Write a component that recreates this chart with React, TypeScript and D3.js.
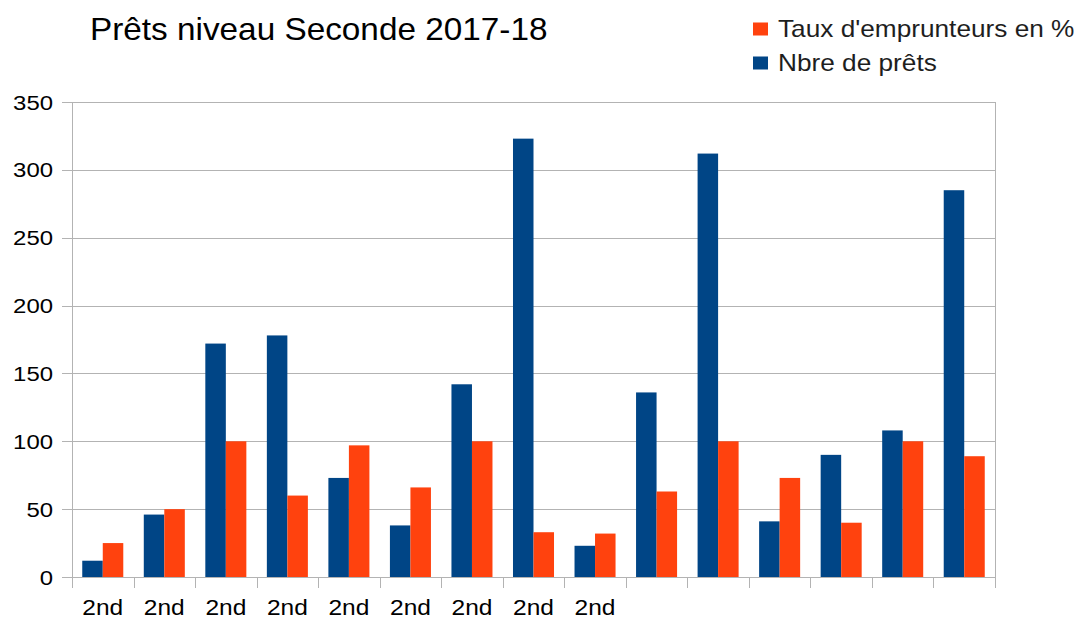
import React, { useEffect, useRef } from "react";
import * as d3 from "d3";

const width = 1077;
const height = 618;

const categories = ["2nd", "2nd", "2nd", "2nd", "2nd", "2nd", "2nd", "2nd", "2nd", "", "", "", "", "", ""];
const nbrePrets = [12, 46, 172, 178, 73, 38, 142, 323, 23, 136, 312, 41, 90, 108, 285];
const tauxEmprunteurs = [25, 50, 100, 60, 97, 66, 100, 33, 32, 63, 100, 73, 40, 100, 89];
const yTicks = [0, 50, 100, 150, 200, 250, 300, 350];

const seriesNames = ["Nbre de prêts", "Taux d'emprunteurs en %"];
const colors = ["#004586", "#ff420e"];

const margin = { top: 102, right: 82, bottom: 41, left: 72 };
// the original render is a bit wider than the font, stretch text horizontally
const stretch = 1.14;

export default function App() {
  const ref = useRef<SVGSVGElement>(null);

  useEffect(() => {
    const svg = d3.select(ref.current);
    svg.selectAll("*").remove();
    const font = "'Liberation Sans', Arial, sans-serif";

    const innerW = width - margin.left - margin.right;
    const innerH = height - margin.top - margin.bottom;

    const x = d3
      .scaleBand<number>()
      .domain(d3.range(categories.length))
      .range([0, innerW])
      .paddingInner(0)
      .paddingOuter(0);
    const xs = d3
      .scaleBand<number>()
      .domain([0, 1])
      .range([x.bandwidth() / 6, (x.bandwidth() * 5) / 6]);
    const y = d3.scaleLinear().domain([0, 350]).range([innerH, 0]);

    const g = svg
      .append("g")
      .attr("transform", "translate(" + margin.left + "," + margin.top + ")");

    // grid lines + y ticks
    g.selectAll(".grid")
      .data(yTicks)
      .enter()
      .append("line")
      .attr("x1", -10)
      .attr("x2", innerW)
      .attr("y1", (d) => Math.round(y(d)) + 0.5)
      .attr("y2", (d) => Math.round(y(d)) + 0.5)
      .attr("stroke", "#b3b3b3")
      .attr("stroke-width", 1);

    g.selectAll(".ylab")
      .data(yTicks)
      .enter()
      .append("text")
      .attr("transform", (d) => `translate(-19,${y(d) + 7.5}) scale(${stretch},1)`)
      .attr("text-anchor", "end")
      .attr("font-family", font)
      .attr("font-size", 21)
      .attr("fill", "#000")
      .text((d) => d);

    // axes lines
    g.append("line")
      .attr("x1", 0.5)
      .attr("x2", 0.5)
      .attr("y1", 0)
      .attr("y2", innerH + 11)
      .attr("stroke", "#b3b3b3");
    g.append("line")
      .attr("x1", innerW + 0.5)
      .attr("x2", innerW + 0.5)
      .attr("y1", 0)
      .attr("y2", innerH + 11)
      .attr("stroke", "#b3b3b3");

    const bounds = d3.range(categories.length + 1);
    g.selectAll(".xtick")
      .data(bounds)
      .enter()
      .append("line")
      .attr("x1", (d) => Math.round(d * x.step()) + 0.5)
      .attr("x2", (d) => Math.round(d * x.step()) + 0.5)
      .attr("y1", innerH)
      .attr("y2", innerH + 11)
      .attr("stroke", "#b3b3b3");

    // bars
    const series = [nbrePrets, tauxEmprunteurs];
    series.forEach((vals, s) => {
      g.selectAll(".bar" + s)
        .data(vals)
        .enter()
        .append("rect")
        .attr("x", (d, i) => (x(i) as number) + (xs(s) as number))
        .attr("y", (d) => y(d))
        .attr("width", xs.bandwidth())
        .attr("height", (d) => innerH - y(d))
        .attr("fill", colors[s]);
    });

    // x labels
    g.selectAll(".xlab")
      .data(categories)
      .enter()
      .append("text")
      .attr(
        "transform",
        (d, i) => `translate(${(x(i) as number) + x.bandwidth() / 2},${innerH + 38}) scale(${stretch},1)`
      )
      .attr("text-anchor", "middle")
      .attr("font-family", font)
      .attr("font-size", 21.5)
      .attr("fill", "#000")
      .text((d) => d);

    // title
    svg
      .append("text")
      .attr("transform", "translate(90,40) scale(1.075,1)")
      .attr("font-family", font)
      .attr("font-size", 31)
      .attr("fill", "#000")
      .text("Prêts niveau Seconde 2017-18");

    // legend
    const legend = [
      { name: seriesNames[1], color: colors[1], y: 22.5 },
      { name: seriesNames[0], color: colors[0], y: 56.5 },
    ];
    const lg = svg.selectAll(".legend").data(legend).enter().append("g");
    lg.append("rect")
      .attr("x", 753)
      .attr("y", (d) => d.y)
      .attr("width", 15)
      .attr("height", 13)
      .attr("fill", (d) => d.color);
    lg.append("text")
      .attr("transform", (d) => `translate(778,${d.y + 14.5}) scale(${stretch},1)`)
      .attr("font-family", font)
      .attr("font-size", 23)
      .attr("fill", "#1e1e1e")
      .text((d) => d.name);
  }, []);

  return (
    <svg
      ref={ref}
      width={width}
      height={height}
      style={{ position: "absolute", left: 0, top: 0, background: "#fff" }}
    />
  );
}
